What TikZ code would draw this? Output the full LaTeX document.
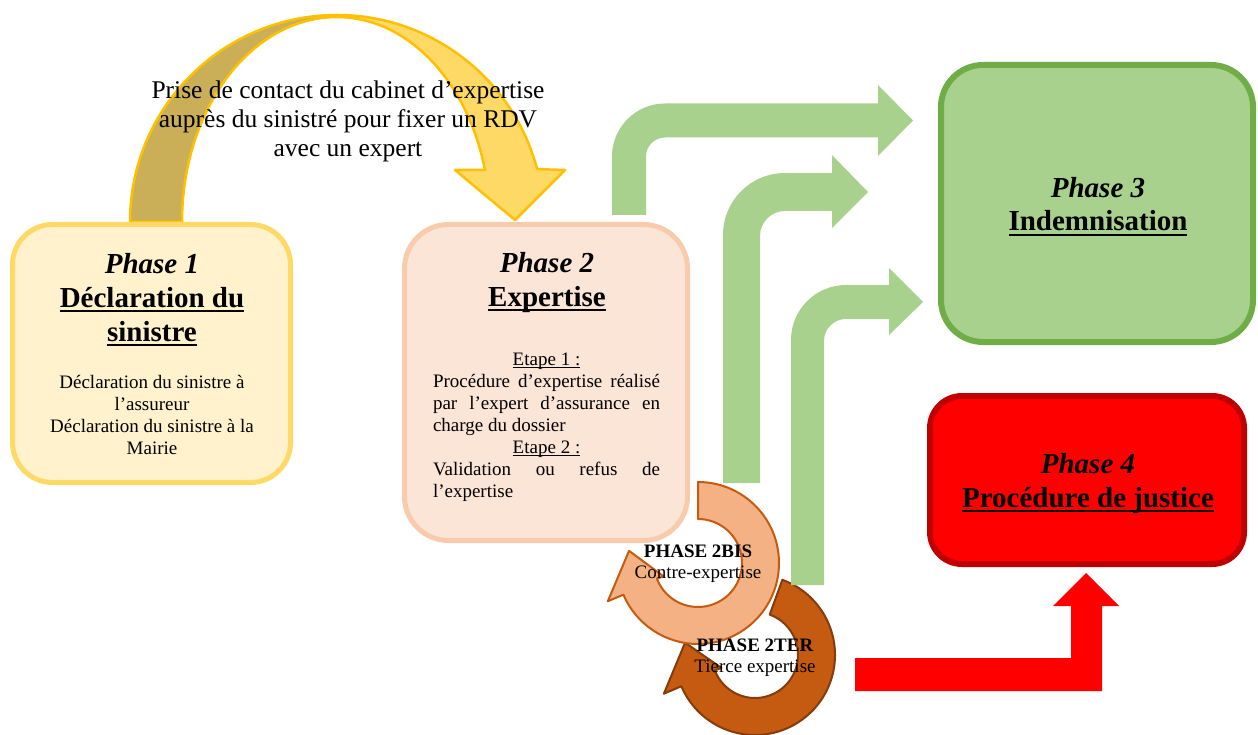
\documentclass[tikz,border=0pt]{standalone}
\usepackage{fontspec}
\setmainfont{Liberation Serif}
\usetikzlibrary{calc}

\definecolor{pOneFill}{HTML}{FFF2CC}
\definecolor{pOneLine}{HTML}{FFD966}
\definecolor{pTwoFill}{HTML}{FBE5D6}
\definecolor{pTwoLine}{HTML}{F8CBAD}
\definecolor{pThreeFill}{HTML}{A9D18E}
\definecolor{pThreeLine}{HTML}{70AD47}
\definecolor{pFourFill}{HTML}{FF0000}
\definecolor{pFourLine}{HTML}{C00000}
\definecolor{bisFill}{HTML}{F4B183}
\definecolor{bisLine}{HTML}{C55A11}
\definecolor{terFill}{HTML}{C55A11}
\definecolor{terLine}{HTML}{843C0C}
\definecolor{archLight}{HTML}{FFD966}
\definecolor{archDark}{HTML}{CAAE58}
\definecolor{archLine}{HTML}{FFC000}

% underline drawn as a rule just below the baseline
\newsavebox\ulinebox
\newcommand\ulword[1]{\sbox\ulinebox{#1}\rlap{\rule[-0.16em]{\wd\ulinebox}{0.07em}}\usebox\ulinebox}

\begin{document}
% multi-line text nodes are placed by the baseline of their last line
\begin{tikzpicture}[x=1pt,y=-1pt,
  phasebox/.style={draw, rectangle, line width=5pt, inner sep=0pt},
  greenarrow/.style={fill=pThreeFill, draw=none},
  titletext/.style={font=\fontsize{29}{33.5}\selectfont\bfseries, align=center, anchor=base, inner sep=0pt},
  bodytext/.style={font=\fontsize{19}{22}\selectfont, align=center, anchor=base, inner sep=0pt},
  toptext/.style={font=\fontsize{25.5}{29.3}\selectfont, align=center, anchor=base, inner sep=0pt},
  looptext/.style={font=\fontsize{19}{21}\selectfont, align=center, anchor=base, inner sep=0pt},
]
\useasboundingbox (0,0) rectangle (1258,735);

% curved arrow from phase 1 to phase 2
\filldraw[fill=archDark, draw=archLine, line width=2.5pt, line join=round]
  (130,222) arc[start angle=180, end angle=270, radius=207]
  -- (337,17) arc[start angle=270, end angle=180, x radius=155, y radius=205] -- cycle;
\filldraw[fill=archLight, draw=archLine, line width=2.5pt, line join=round]
  (337,15) arc[start angle=270, end angle=345.2, radius=207]
  -- (565,170) -- (515,220) -- (455,170) -- (485,170)
  arc[start angle=345.3, end angle=270, x radius=153, y radius=205] -- cycle;

% phase boxes
\node[phasebox, fill=pOneFill, draw=pOneLine, rounded corners=40pt,
      minimum width=278pt, minimum height=258pt] (p1) at (151.5,353.5) {};
\node[phasebox, fill=pTwoFill, draw=pTwoLine, rounded corners=44pt,
      minimum width=283pt, minimum height=316pt] (p2) at (546,382.5) {};
\node[phasebox, line width=6pt, fill=pThreeFill, draw=pThreeLine, rounded corners=42pt,
      minimum width=312pt, minimum height=277pt] (p3) at (1097,203.5) {};
\node[phasebox, line width=6pt, fill=pFourFill, draw=pFourLine, rounded corners=32pt,
      minimum width=314pt, minimum height=168pt] (p4) at (1087,480) {};

% bent green arrows towards phase 3
\fill[greenarrow] (612,215) -- (612,156.5) arc[start angle=180, end angle=270, radius=53]
  -- (878,103.5) -- (878,85) -- (913,120.5) -- (878,156) -- (878,137.5)
  -- (665,137.5) arc[start angle=270, end angle=180, radius=19] -- (646,215) -- cycle;
\fill[greenarrow] (723,483) -- (723,235) arc[start angle=180, end angle=270, radius=62]
  -- (832,173) -- (832,155) -- (868,192) -- (832,228) -- (832,211)
  -- (785,211) arc[start angle=270, end angle=180, radius=25] -- (760,483) -- cycle;

% counter-expertise and third-party expertise loops
\begin{scope}[shift={(755,655)}]
  \filldraw[fill=terFill, draw=terLine, line width=2pt, line join=round]
    (-70:80) arc[start angle=-70, end angle=157, radius=80]
    -- (157:99) -- (190:71) -- (159:36) -- (159:43)
    arc[start angle=159, end angle=-70, radius=43] -- cycle;
\end{scope}
\begin{scope}[shift={(698,563)}]
  \filldraw[fill=bisFill, draw=bisLine, line width=2pt, line join=round]
    (-90:81) arc[start angle=-90, end angle=157, radius=81]
    -- (157:98) -- (190:70) -- (159:37) -- (159:44)
    arc[start angle=159, end angle=-90, radius=44] -- cycle;
\end{scope}

\fill[greenarrow] (791,585) -- (791,340) arc[start angle=180, end angle=270, radius=55]
  -- (889,285) -- (889,268) -- (923,302) -- (889,335) -- (889,319)
  -- (846,319) arc[start angle=270, end angle=180, radius=22] -- (824,585) -- cycle;

% red arrow towards phase 4
\fill[pFourFill] (855,658) -- (1071,658) -- (1071,606) -- (1053,606) -- (1086,573)
  -- (1119,606) -- (1102,606) -- (1102,691) -- (855,691) -- cycle;

% texts
\node[toptext] (contact) at (348,157) {Prise de contact du cabinet d’expertise\\auprès du sinistré pour fixer un RDV\\avec un expert};

\node[titletext] (p1title) at (152,341) {\textit{Phase 1}\\\ulword{Déclaration du}\\\ulword{sinistre}};
\node[bodytext] (p1body) at (152,454) {Déclaration du sinistre à\\l’assureur\\Déclaration du sinistre à la\\Mairie};

\node[titletext] (p2title) at (547,306) {\textit{Phase 2}\\\ulword{Expertise}};
\node[bodytext, align=left] (p2body) at (546.5,497) {%
  \makebox[227pt][c]{\ulword{Etape 1 :}}\\
  \makebox[227pt][s]{Procédure d’expertise réalisé}\\
  \makebox[227pt][s]{par l’expert d’assurance en}\\
  charge du dossier\\
  \makebox[227pt][c]{\ulword{Etape 2 :}}\\
  \makebox[227pt][s]{Validation ou refus de}\\
  l’expertise};

\node[titletext] (p3title) at (1098,231) {\textit{Phase 3}\\\ulword{Indemnisation}};
\node[titletext] (p4title) at (1088,507) {\textit{Phase 4}\\\ulword{Procédure de justice}};

\node[looptext] (bistext) at (698,578) {\textbf{PHASE 2BIS}\\Contre-expertise};
\node[looptext] (tertext) at (755,672) {\textbf{PHASE 2TER}\\Tierce expertise};
\end{tikzpicture}
\end{document}
